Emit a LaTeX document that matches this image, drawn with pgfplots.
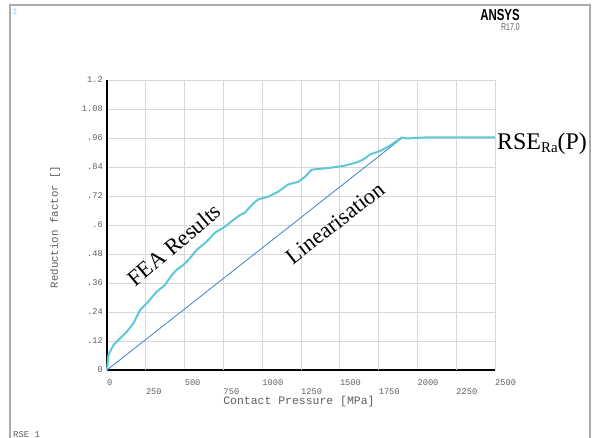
\documentclass[border=0pt]{standalone}
\usepackage{pgfplots}
\pgfplotsset{compat=1.18}
\usepackage{fontspec}
\setmainfont{Liberation Serif}
\newfontfamily\monof{Liberation Mono}
\newfontfamily\sansf{Liberation Sans}
\definecolor{fea}{RGB}{95,200,215}
\definecolor{lin}{RGB}{60,130,210}
\definecolor{gridc}{RGB}{215,215,215}
\definecolor{labc}{RGB}{95,95,95}
\definecolor{framec}{RGB}{170,170,170}
\begin{document}
\begin{tikzpicture}
\path[use as bounding box] (0bp,0bp) rectangle (592bp,438bp);
\fill[white] (0bp,0bp) rectangle (592bp,438bp);
\draw[framec, line width=1.2bp] (10bp,0bp) -- (10bp,433bp) -- (590bp,433bp) -- (590bp,0bp);
\node[anchor=north west, inner sep=0, text=cyan!45, font=\monof\fontsize{9}{9}\selectfont] at (12bp,430bp) {1};
\node[anchor=north east, inner sep=0, font=\sansf\bfseries\fontsize{16}{16}\selectfont] at (520bp,429bp) {\scalebox{0.72}[1]{ANSYS}};
\node[anchor=north east, inner sep=0, text=labc, font=\sansf\fontsize{10}{10}\selectfont] at (520bp,415bp) {\scalebox{0.7}[1]{R17.0}};
\node[anchor=base west, inner sep=0, text=labc, font=\monof\fontsize{9}{9}\selectfont] at (13bp,1bp) {RSE 1};
\begin{axis}[
  at={(107bp,68bp)}, anchor=origin,
  scale only axis, width=388bp, height=290bp,
  xmin=0, xmax=2500, ymin=0, ymax=1.2,
  axis x line=bottom, axis y line=left,
  axis line style={black, line width=1.6bp, -},
  grid=major, major grid style={gridc, line width=0.8bp},
  major tick length=0pt,
  xtick={0,500,1000,1500,2000,2500},
  xticklabels={0,500,1000,1500,2000,2500},
  extra x ticks={250,750,1250,1750,2250},
  extra x tick labels={250,750,1250,1750,2250},
  extra x tick style={grid=major, xticklabel style={yshift=-9bp}},
  xticklabel style={anchor=north west, inner sep=0pt, yshift=-10bp, text=labc, font=\monof\fontsize{8.7}{9}\selectfont},
  ytick={0,0.12,0.24,0.36,0.48,0.6,0.72,0.84,0.96,1.08,1.2},
  yticklabels={0,.12,.24,.36,.48,.6,.72,.84,.96,1.08,1.2},
  yticklabel style={anchor=east, inner sep=0pt, xshift=-4bp, text=labc, font=\monof\fontsize{8.7}{9}\selectfont},
  clip=false,
]
\addplot[lin, line width=0.8bp] coordinates {(0,0) (1905,0.962)};
\addplot[fea, line width=2bp, line join=round] coordinates {
(0,0) (9,0.062) (41,0.103) (73,0.124) (127,0.158) (170,0.193) (213,0.248)
(266,0.283) (320,0.324) (374,0.352) (417,0.393) (448,0.414) (491,0.434)
(524,0.455) (578,0.497) (642,0.531) (690,0.565) (710,0.574) (760,0.593)
(814,0.621) (857,0.641) (889,0.651) (943,0.69) (975,0.706) (1039,0.717)
(1104,0.738) (1168,0.768) (1233,0.779) (1276,0.80) (1319,0.829) (1415,0.835)
(1522,0.844) (1609,0.859) (1651,0.871) (1695,0.892) (1759,0.906) (1823,0.928)
(1898,0.962) (1940,0.958) (1973,0.960) (2081,0.963) (2500,0.963)};
\end{axis}
\node[text=labc, font=\monof\fontsize{11.5}{12}\selectfont] at (299bp,36bp) {Contact Pressure [MPa]};
\node[rotate=90, text=labc, font=\monof\fontsize{10.8}{11}\selectfont] at (55bp,211bp) {Reduction factor []};
\node[rotate=40, font=\fontsize{22.5}{22.5}\selectfont] at (174bp,193bp) {FEA Results};
\node[rotate=38, font=\fontsize{22.5}{22.5}\selectfont] at (335bp,215bp) {Linearisation};
\node[anchor=base west, inner sep=0, font=\fontsize{24}{24}\selectfont] at (497bp,288bp) {RSE\raisebox{-2.5bp}{\fontsize{15}{15}\selectfont Ra}(P)};
\end{tikzpicture}
\end{document}
